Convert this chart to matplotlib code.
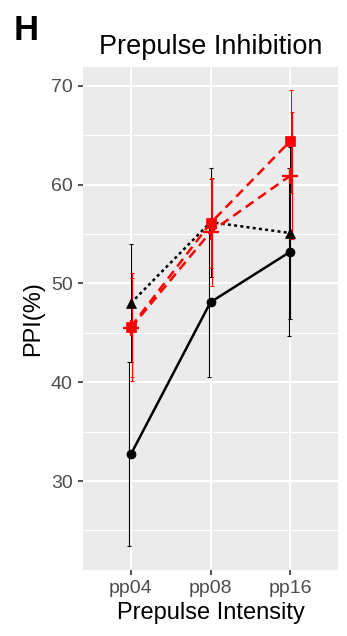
import matplotlib
matplotlib.use("Agg")
import matplotlib.pyplot as plt
import numpy as np

plt.rcParams['font.family'] = ['Liberation Sans', 'DejaVu Sans']

intensity = ["pp04", "pp08", "pp16"]

# four groups: mean and error
circ_mean = [32.7, 48.1, 53.2]
circ_err = [9.3, 7.6, 8.5]
tri_mean = [48.0, 56.2, 55.1]
tri_err = [6.0, 5.5, 8.7]
sq_mean = [45.6, 56.1, 64.4]
sq_err = [5.5, 4.5, 5.2]
plus_mean = [45.5, 55.2, 60.9]
plus_err = [5.0, 5.5, 6.4]

x = np.arange(len(intensity))

fig = plt.figure(figsize=(3.47, 6.36), dpi=100)
ax = fig.add_axes([83/347, 66/636, 255/347, 503/636])
ax.set_facecolor('#EBEBEB')
for s in ax.spines.values():
    s.set_visible(False)

ax.set_xlim(-0.6, 2.6)
ax.set_ylim(21.0, 71.9)
ax.set_yticks([30, 40, 50, 60, 70])
ax.set_yticks([25, 35, 45, 55, 65], minor=True)
ax.set_xticks(x)
ax.set_xticklabels(intensity)
ax.grid(True, which='major', color='white', lw=1.5)
ax.grid(True, which='minor', axis='y', color='white', lw=0.8)
ax.set_axisbelow(True)
ax.tick_params(which='major', length=3.5, width=1.2, color='#333333',
               labelcolor='#4D4D4D', labelsize=14, pad=4)
ax.tick_params(which='minor', length=0)

groups = [
    (circ_mean, circ_err, 'black', '-', 'o', 6.5, -0.02),
    (tri_mean, tri_err, 'black', (0, (1.2, 1.3)), '^', 7.5, 0.0),
    (sq_mean, sq_err, 'red', (0, (3.8, 2.3)), 's', 7.5, 0.01),
    (plus_mean, plus_err, 'red', (0, (3.8, 2.3)), '+', 12, 0.02),
]
for mean, err, col, ls, mk, ms, dx in groups:
    ax.errorbar(x + dx, mean, yerr=err, fmt='none', ecolor=col,
                elinewidth=0.8, capsize=1.2, capthick=0.8, zorder=3)
    ax.plot(x, mean, color=col, ls=ls, lw=1.8, zorder=4)
    ax.plot(x, mean, ls='none', marker=mk, ms=ms, color=col,
            mew=1.6 if mk == '+' else 0.5, zorder=5)

ax.set_xlabel("Prepulse Intensity", fontsize=17, labelpad=3)
ax.set_ylabel("PPI(%)", fontsize=17, labelpad=5)
ax.set_title("Prepulse Inhibition", fontsize=19.5, pad=9)
fig.text(14/347, 1 - 31/636, "H", fontsize=25, fontweight='bold', va='center')

fig.savefig("out.png", dpi=100)
